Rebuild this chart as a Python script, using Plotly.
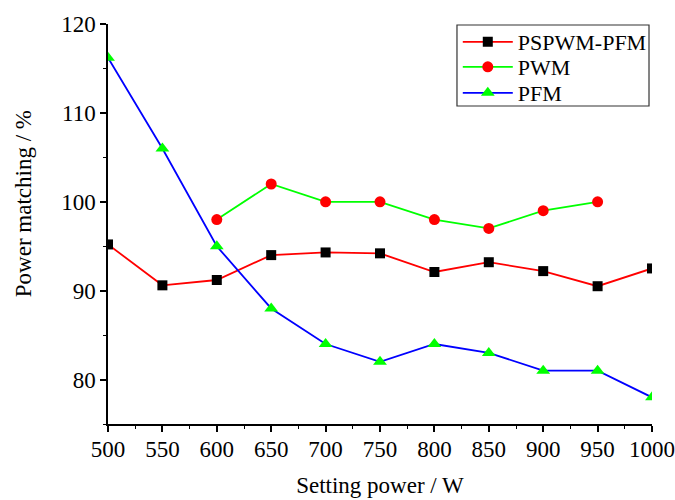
import plotly.graph_objects as go

x_power = [500, 550, 600, 650, 700, 750, 800, 850, 900, 950, 1000]
pspwm_pfm = [95.2, 90.6, 91.2, 94.0, 94.3, 94.2, 92.1, 93.2, 92.2, 90.5, 92.5]
x_pwm = [600, 650, 700, 750, 800, 850, 900, 950]
pwm = [98, 102, 100, 100, 98, 97, 99, 100]
pfm = [116.2, 106, 95, 88, 84, 82, 84, 83, 81, 81, 78]

font = "Liberation Serif"

fig = go.Figure()
fig.add_trace(go.Scatter(x=x_power, y=pspwm_pfm, name="PSPWM-PFM", mode="lines+markers",
                         line=dict(color="#ff0000", width=1.8), legend="legend",
                         marker=dict(symbol="square", size=10, color="black")))
fig.add_trace(go.Scatter(x=x_pwm, y=pwm, name="PWM", mode="lines+markers",
                         line=dict(color="#00ff00", width=1.8), legend="legend2",
                         marker=dict(symbol="circle", size=11, color="#ff0000")))
fig.add_trace(go.Scatter(x=x_power, y=pfm, name="PFM", mode="lines+markers",
                         line=dict(color="#0000ff", width=1.8), legend="legend3",
                         marker=dict(symbol="triangle-up", size=12, color="#00ff00")))

leg_common = dict(x=0.643, xanchor="left", yanchor="middle",
                  bgcolor="rgba(0,0,0,0)", borderwidth=0,
                  font=dict(family=font, size=22, color="black"), itemwidth=50)

fig.update_layout(
    width=675, height=500,
    margin=dict(l=108, r=23, t=24, b=76, autoexpand=False),
    paper_bgcolor="white", plot_bgcolor="white",
    font=dict(family=font, size=21, color="black"),
    showlegend=True,
    legend=dict(y=0.955, **leg_common),
    legend2=dict(y=0.8925, **leg_common),
    legend3=dict(y=0.8275, **leg_common),
    shapes=[dict(type="rect", xref="paper", yref="paper",
                 x0=0.6415, x1=0.9945, y0=0.795, y1=0.9975,
                 line=dict(color="#333333", width=1.2), fillcolor="rgba(0,0,0,0)", layer="above")],
    annotations=[dict(text="Power matching / %", xref="paper", yref="paper",
                      x=-0.154, y=0.55, textangle=-90, showarrow=False,
                      xanchor="center", yanchor="middle",
                      font=dict(family=font, size=23, color="black"))],
    xaxis=dict(range=[500, 1000], tickvals=x_power, showgrid=False, zeroline=False,
               automargin=False, ticklabeloverflow="allow", ticklabelstandoff=-2,
               showline=True, linecolor="black", linewidth=1.5,
               ticks="outside", ticklen=6, tickwidth=1.5, tickcolor="black",
               minor=dict(dtick=25, ticks="outside", ticklen=3, tickwidth=1.2, tickcolor="black"),
               title=dict(text="Setting power / W", standoff=16,
                          font=dict(family=font, size=23, color="black")),
               tickfont=dict(family=font, size=23, color="black")),
    yaxis=dict(range=[75, 120], tickvals=[80, 90, 100, 110, 120], showgrid=False, zeroline=False,
               automargin=False,
               showline=True, linecolor="black", linewidth=1.5,
               ticks="outside", ticklen=6, tickwidth=1.5, tickcolor="black",
               minor=dict(dtick=5, ticks="outside", ticklen=3, tickwidth=1.2, tickcolor="black"),
               tickfont=dict(family=font, size=23, color="black")),
)

fig.write_html("out.html")
